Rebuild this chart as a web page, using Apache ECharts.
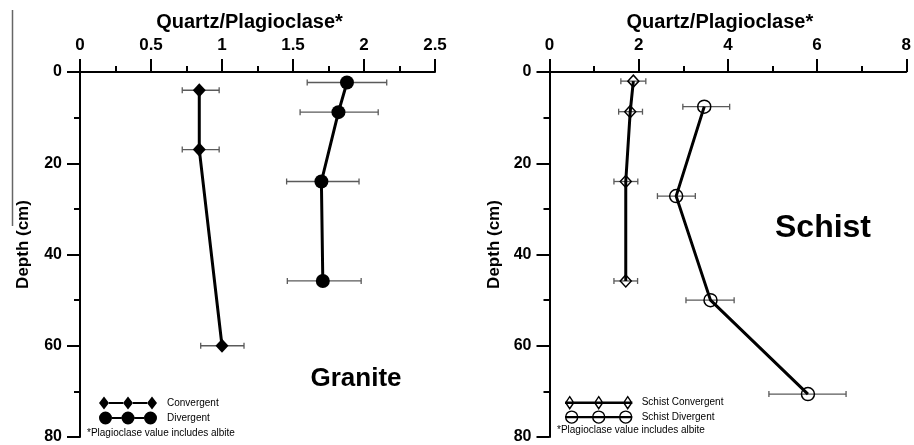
<!DOCTYPE html>
<html>
<head>
<meta charset="utf-8">
<title>Quartz/Plagioclase depth profiles</title>
<script src="https://cdn.jsdelivr.net/npm/echarts@6/dist/echarts.min.js"></script>
<style>
    html, body { margin: 0; padding: 0; background: #fff; }
    #chart { width: 914px; height: 445px; }
</style>
</head>
<body>
<div id="chart"></div>
<script>
// Granite, convergent
var granConvDepth = [4, 17, 60];
var granConvRatio = [0.84, 0.84, 1.0];
var granConvLo = [0.72, 0.72, 0.85];
var granConvHi = [0.98, 0.98, 1.155];

// Granite, divergent
var granDivDepth = [2.3, 8.8, 24, 45.8];
var granDivRatio = [1.88, 1.82, 1.70, 1.71];
var granDivLo = [1.60, 1.55, 1.455, 1.46];
var granDivHi = [2.16, 2.10, 1.965, 1.98];

// Schist, convergent
var schConvDepth = [2, 8.7, 24, 45.8];
var schConvRatio = [1.88, 1.81, 1.71, 1.71];
var schConvLo = [1.60, 1.55, 1.445, 1.445];
var schConvHi = [2.16, 2.085, 1.98, 1.975];

// Schist, divergent
var schDivDepth = [7.6, 27.2, 50, 70.6];
var schDivRatio = [3.47, 2.84, 3.61, 5.795];
var schDivLo = [2.99, 2.42, 3.06, 4.92];
var schDivHi = [4.04, 3.27, 4.14, 6.65];

var xTitle = 'Quartz/Plagioclase*';
var yTitle = 'Depth (cm)';
var note = '*Plagioclase value includes albite';

var FONT = 'Liberation Sans, Arial, sans-serif';

// legend icons: a line with three markers
var iconDiamondFilled = 'path://M5,0 L10,6.5 L5,13 L0,6.5 Z M29,0 L34,6.5 L29,13 L24,6.5 Z M53,0 L58,6.5 L53,13 L48,6.5 Z' +
    ' M10,5.5 L24,5.5 L24,7.5 L10,7.5 Z M34,5.5 L48,5.5 L48,7.5 L34,7.5 Z';
var iconCircleFilled = 'path://M0,6.5 A6.5,6.5 0 1,1 13,6.5 A6.5,6.5 0 1,1 0,6.5 Z M22.5,6.5 A6.5,6.5 0 1,1 35.5,6.5 A6.5,6.5 0 1,1 22.5,6.5 Z' +
    ' M45,6.5 A6.5,6.5 0 1,1 58,6.5 A6.5,6.5 0 1,1 45,6.5 Z M13,5.5 L22.5,5.5 L22.5,7.5 L13,7.5 Z M35.5,5.5 L45,5.5 L45,7.5 L35.5,7.5 Z';
var iconDiamondOpen = 'path://M4,0 L8,6 L4,12 L0,6 Z M33,0 L37,6 L33,12 L29,6 Z M62,0 L66,6 L62,12 L58,6 Z M0,5.5 L66,5.5 L66,6.5 L0,6.5 Z';
var iconCircleOpen = 'path://M0,6 A6,6 0 1,1 12,6 A6,6 0 1,1 0,6 Z M27,6 A6,6 0 1,1 39,6 A6,6 0 1,1 27,6 Z' +
    ' M54,6 A6,6 0 1,1 66,6 A6,6 0 1,1 54,6 Z M0,5.5 L66,5.5 L66,6.5 L0,6.5 Z';

function zipPoints(ratio, depth) {
    return ratio.map(function (v, i) { return [v, depth[i]]; });
}

function zipBars(lo, hi, depth) {
    return lo.map(function (v, i) { return [v, hi[i], depth[i]]; });
}

function renderErrorBar(params, api) {
    var a = api.coord([api.value(0), api.value(2)]);
    var b = api.coord([api.value(1), api.value(2)]);
    var cap = 3;
    var style = { stroke: '#5a5a5a', lineWidth: 1.3 };
    return {
        type: 'group',
        children: [
            { type: 'line', shape: { x1: a[0], y1: a[1], x2: b[0], y2: b[1] }, style: style },
            { type: 'line', shape: { x1: a[0], y1: a[1] - cap, x2: a[0], y2: a[1] + cap }, style: style },
            { type: 'line', shape: { x1: b[0], y1: b[1] - cap, x2: b[0], y2: b[1] + cap }, style: style }
        ]
    };
}

function errorSeries(idx, data) {
    return {
        type: 'custom',
        xAxisIndex: idx,
        yAxisIndex: idx,
        renderItem: renderErrorBar,
        encode: { x: [0, 1], y: 2 },
        data: data,
        z: 1,
        silent: true
    };
}

function xAxisFor(idx, max, interval, nameShift) {
    return {
        type: 'value',
        gridIndex: idx,
        position: 'top',
        min: 0,
        max: max,
        interval: interval,
        name: xTitle,
        nameLocation: 'middle',
        nameGap: 39,
        nameTextStyle: {
            fontFamily: FONT, fontWeight: 'bold', fontSize: 20, color: '#000',
            padding: [0, nameShift, 0, 0]
        },
        axisLine: { show: true, onZero: false, lineStyle: { color: '#000', width: 2 } },
        axisTick: { show: true, length: 13, lineStyle: { color: '#000', width: 2 } },
        minorTick: { show: true, splitNumber: 2, length: 6, lineStyle: { color: '#000', width: 2 } },
        splitLine: { show: false },
        axisLabel: {
            fontFamily: FONT, fontWeight: 'bold', fontSize: 17, color: '#000', margin: 18,
            showMinLabel: true, showMaxLabel: true
        }
    };
}

function yAxisFor(idx, gap) {
    return {
        type: 'value',
        gridIndex: idx,
        inverse: true,
        min: 0,
        max: 80,
        interval: 20,
        name: yTitle,
        nameLocation: 'middle',
        nameGap: gap,
        nameTextStyle: {
            fontFamily: FONT, fontWeight: 'bold', fontSize: 17, color: '#000',
            padding: [0, 0, 0, 20]
        },
        axisLine: { show: true, onZero: false, lineStyle: { color: '#000', width: 2 } },
        axisTick: { show: true, length: 13, lineStyle: { color: '#000', width: 2 } },
        minorTick: { show: true, splitNumber: 2, length: 6, lineStyle: { color: '#000', width: 2 } },
        splitLine: { show: false },
        axisLabel: { fontFamily: FONT, fontWeight: 'bold', fontSize: 16, color: '#000', margin: 18 }
    };
}

var chart = echarts.init(document.getElementById('chart'), null, { renderer: 'canvas' });

var option = {
    backgroundColor: '#fff',
    animation: false,
    grid: [
        { left: 80, top: 72, width: 355, height: 367 },
        { left: 549.5, top: 72, width: 363, height: 367 }
    ],
    xAxis: [xAxisFor(0, 2.5, 0.5, 16), xAxisFor(1, 8, 2, 16)],
    yAxis: [yAxisFor(0, 48), yAxisFor(1, 47)],
    legend: [
        {
            left: 94, top: 391.5, orient: 'vertical',
            itemWidth: 58, itemHeight: 13, itemGap: 2,
            textStyle: { fontFamily: FONT, fontSize: 10, color: '#000', padding: [0, 0, 0, 5] },
            selectedMode: false,
            data: [
                { name: 'Convergent', icon: iconDiamondFilled },
                { name: 'Divergent', icon: iconCircleFilled }
            ]
        },
        {
            left: 560, top: 391, orient: 'vertical',
            itemWidth: 66, itemHeight: 12, itemGap: 1,
            textStyle: { fontFamily: FONT, fontSize: 10, color: '#000', padding: [0, 0, 0, 5] },
            selectedMode: false,
            itemStyle: { color: 'rgba(0,0,0,0)', borderColor: '#000', borderWidth: 1.4 },
            data: [
                { name: 'Schist Convergent', icon: iconDiamondOpen },
                { name: 'Schist Divergent', icon: iconCircleOpen }
            ]
        }
    ],
    graphic: [
        { type: 'line', shape: { x1: 12.5, y1: 10, x2: 12.5, y2: 226 }, style: { stroke: '#666', lineWidth: 1.5 } },
        {
            type: 'text', x: 356, y: 379,
            style: { text: 'Granite', fontFamily: FONT, fontWeight: 'bold', fontSize: 26, fill: '#000', align: 'center', verticalAlign: 'middle' }
        },
        {
            type: 'text', x: 823, y: 228,
            style: { text: 'Schist', fontFamily: FONT, fontWeight: 'bold', fontSize: 32, fill: '#000', align: 'center', verticalAlign: 'middle' }
        },
        {
            type: 'text', x: 87, y: 433,
            style: { text: note, fontFamily: FONT, fontSize: 10, fill: '#000', align: 'left', verticalAlign: 'middle' }
        },
        {
            type: 'text', x: 557, y: 430,
            style: { text: note, fontFamily: FONT, fontSize: 10, fill: '#000', align: 'left', verticalAlign: 'middle' }
        }
    ],
    series: [
        errorSeries(0, zipBars(granConvLo, granConvHi, granConvDepth)),
        errorSeries(0, zipBars(granDivLo, granDivHi, granDivDepth)),
        errorSeries(1, zipBars(schConvLo, schConvHi, schConvDepth)),
        errorSeries(1, zipBars(schDivLo, schDivHi, schDivDepth)),
        {
            name: 'Convergent', type: 'line', xAxisIndex: 0, yAxisIndex: 0,
            data: zipPoints(granConvRatio, granConvDepth),
            symbol: 'diamond', symbolSize: [13, 14], showAllSymbol: true,
            itemStyle: { color: '#000' },
            lineStyle: { color: '#000', width: 3 },
            z: 3, emphasis: { disabled: true }
        },
        {
            name: 'Divergent', type: 'line', xAxisIndex: 0, yAxisIndex: 0,
            data: zipPoints(granDivRatio, granDivDepth),
            symbol: 'circle', symbolSize: 14, showAllSymbol: true,
            itemStyle: { color: '#000' },
            lineStyle: { color: '#000', width: 3 },
            z: 3, emphasis: { disabled: true }
        },
        {
            name: 'Schist Convergent', type: 'line', xAxisIndex: 1, yAxisIndex: 1,
            data: zipPoints(schConvRatio, schConvDepth),
            symbol: 'diamond', symbolSize: [11, 12], showAllSymbol: true,
            itemStyle: { color: 'rgba(0,0,0,0)', borderColor: '#000', borderWidth: 1.5 },
            lineStyle: { color: '#000', width: 3 },
            z: 3, emphasis: { disabled: true }
        },
        {
            name: 'Schist Divergent', type: 'line', xAxisIndex: 1, yAxisIndex: 1,
            data: zipPoints(schDivRatio, schDivDepth),
            symbol: 'circle', symbolSize: 13, showAllSymbol: true,
            itemStyle: { color: 'rgba(0,0,0,0)', borderColor: '#000', borderWidth: 1.5 },
            lineStyle: { color: '#000', width: 3 },
            z: 3, emphasis: { disabled: true }
        }
    ]
};

chart.setOption(option);
</script>
</body>
</html>
